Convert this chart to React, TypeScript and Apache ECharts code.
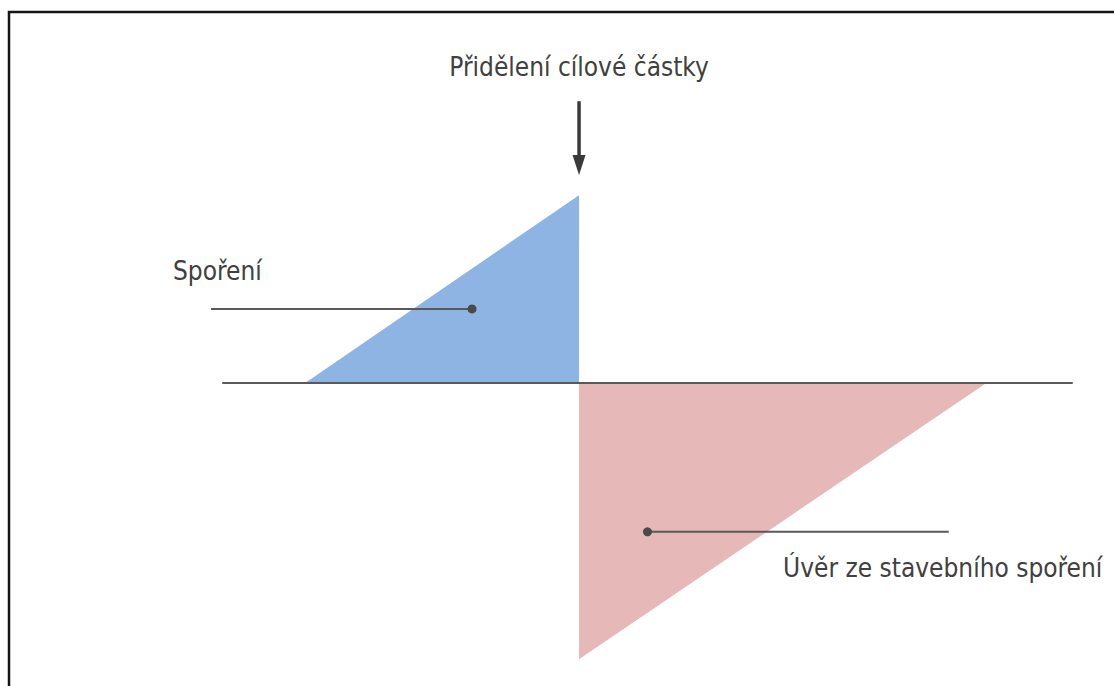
import React, { useEffect, useRef } from "react";
import * as echarts from "echarts";

// Schematic: savings phase then loan phase (x in years, y in relative amount)
const savingsX = [0, 4, 4];
const savingsY = [0, 68, 0];
const loanX = [4, 4, 9.95];
const loanY = [0, -100, 0];
const xRange = [-1.2, 11.2];
const yRange = [-105, 80];

const titleText = "Přidělení cílové částky";
const savingsText = "Spoření";
const loanText = "Úvěr ze stavebního spoření";

// annotation anchors in data units
const arrowX = 4;
const arrowTopY = 102;
const arrowTipY = 75.3;
const titleY = 114.5;
const savingsDot = [2.437, 26.8];
const savingsLineStartX = -1.375;
const savingsLabel = [-1.93, 40.6];
const loanDot = [5.0, -53.9];
const loanLineEndX = 9.4;
const loanLabel = [6.98, -67.0];

const FONT = "'Liberation Sans Narrow', 'DejaVu Sans Condensed', 'Open Sans', sans-serif";
const TEXT_COLOR = "#404040";
const LINE_COLOR = "#595959";

export default function App() {
  const ref = useRef<HTMLDivElement>(null);
  useEffect(() => {
    if (!ref.current) return;
    const chart = echarts.init(ref.current, undefined, { renderer: "svg" });
    chart.setOption({
      animation: false,
      backgroundColor: "#ffffff",
      grid: { left: 223, right: 42, top: 162, bottom: 13 },
      xAxis: {
        type: "value",
        min: xRange[0],
        max: xRange[1],
        z: 5,
        axisLine: { show: true, onZero: true, lineStyle: { color: LINE_COLOR, width: 2 } },
        axisTick: { show: false },
        axisLabel: { show: false },
        splitLine: { show: false },
      },
      yAxis: {
        type: "value",
        min: yRange[0],
        max: yRange[1],
        axisLine: { show: false },
        axisTick: { show: false },
        axisLabel: { show: false },
        splitLine: { show: false },
      },
      series: [
        {
          type: "line",
          data: savingsX.map((x, i) => [x, savingsY[i]]),
          showSymbol: false,
          symbol: "none",
          silent: true,
          lineStyle: { width: 0 },
          areaStyle: { color: "#8EB4E3", opacity: 1 },
        },
        {
          type: "line",
          data: loanX.map((x, i) => [x, loanY[i]]),
          showSymbol: false,
          symbol: "none",
          silent: true,
          lineStyle: { width: 0 },
          areaStyle: { color: "#E6B9B8", opacity: 1 },
        },
      ],
    });

    const p = (x: number, y: number) => chart.convertToPixel({ gridIndex: 0 }, [x, y]) as number[];
    const aTop = p(arrowX, arrowTopY);
    const aTip = p(arrowX, arrowTipY);
    const headLen = 20;
    const title = p(arrowX, titleY);
    const sDot = p(savingsDot[0], savingsDot[1]);
    const sStart = p(savingsLineStartX, savingsDot[1]);
    const sLab = p(savingsLabel[0], savingsLabel[1]);
    const lDot = p(loanDot[0], loanDot[1]);
    const lEnd = p(loanLineEndX, loanDot[1]);
    const lLab = p(loanLabel[0], loanLabel[1]);

    const textStyle = (text: string, align: string) => ({
      text,
      font: `26px ${FONT}`,
      fill: TEXT_COLOR,
      textAlign: align,
      textVerticalAlign: "middle",
      align,
      verticalAlign: "middle",
    });

    const Z = 100;
    chart.setOption({
      graphic: [
        {
          type: "rect",
          silent: true,
          z: Z,
          shape: { x: 9, y: 12, width: 1400, height: 1000 },
          style: { fill: "none", stroke: "#151515", lineWidth: 2.5 },
        },
        {
          type: "line",
          silent: true,
          z: Z,
          shape: { x1: aTop[0], y1: aTop[1], x2: aTip[0], y2: aTip[1] - headLen + 2 },
          style: { stroke: "#3a3a3a", lineWidth: 3.5 },
        },
        {
          type: "polygon",
          silent: true,
          z: Z,
          shape: {
            points: [
              [aTip[0] - 6.5, aTip[1] - headLen],
              [aTip[0] + 6.5, aTip[1] - headLen],
              [aTip[0], aTip[1]],
            ],
          },
          style: { fill: "#3a3a3a" },
        },
        { type: "text", silent: true, z: Z, x: title[0], y: title[1], style: textStyle(titleText, "center") },
        {
          type: "line",
          silent: true,
          z: Z,
          shape: { x1: sStart[0], y1: sStart[1], x2: sDot[0], y2: sDot[1] },
          style: { stroke: LINE_COLOR, lineWidth: 2 },
        },
        { type: "circle", silent: true, z: Z, shape: { cx: sDot[0], cy: sDot[1], r: 4.5 }, style: { fill: "#4a4a4a" } },
        { type: "text", silent: true, z: Z, x: sLab[0], y: sLab[1], style: textStyle(savingsText, "left") },
        {
          type: "line",
          silent: true,
          z: Z,
          shape: { x1: lDot[0], y1: lDot[1], x2: lEnd[0], y2: lEnd[1] },
          style: { stroke: LINE_COLOR, lineWidth: 2 },
        },
        { type: "circle", silent: true, z: Z, shape: { cx: lDot[0], cy: lDot[1], r: 4.5 }, style: { fill: "#4a4a4a" } },
        { type: "text", silent: true, z: Z, x: lLab[0], y: lLab[1], style: textStyle(loanText, "left") },
      ],
    });

    return () => chart.dispose();
  }, []);
  return (
    <div
      ref={ref}
      style={{ position: "fixed", left: 0, top: 0, width: 1114, height: 686, background: "#fff" }}
    />
  );
}
